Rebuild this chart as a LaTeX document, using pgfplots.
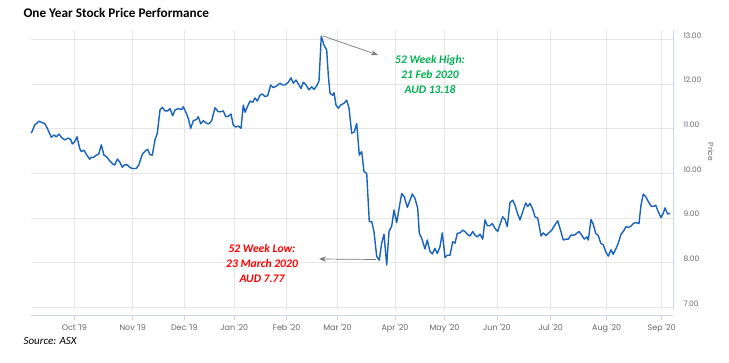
\documentclass[border=0pt]{standalone}
\usepackage{pgfplots}
\pgfplotsset{compat=1.18}
\usepackage{fontspec}
\setmainfont{Carlito}
\newfontfamily\tickfont{Poppins}
\usetikzlibrary{arrows.meta}
\definecolor{lineblue}{RGB}{24,98,188}
\definecolor{axisblue}{RGB}{204,214,235}
\definecolor{gridgrey}{RGB}{230,230,230}
\definecolor{labgrey}{RGB}{102,102,102}
\definecolor{hgreen}{RGB}{0,176,80}
\definecolor{arrgrey}{RGB}{120,120,120}
\begin{document}
\begin{tikzpicture}
\path[use as bounding box] (0pt,0pt) rectangle (729pt,362pt);
\begin{axis}[
  at={(31pt,52pt)}, anchor=south west, scale only axis,
  width=642pt, height=280pt,
  xmin=31, xmax=673, ymin=6.944, ymax=13.21,
  axis x line*=bottom, axis y line*=right,
  axis x line shift=5pt,
  axis line style={axisblue, line width=0.8pt},
  xtick={74.3,132.7,184.3,234.3,286.7,337.5,395,444.5,497,550.7,606.7,661.7},
  xticklabels={Oct '19,Nov '19,Dec '19,Jan '20,Feb '20,Mar '20,Apr '20,May '20,Jun '20,Jul '20,Aug '20,Sep '20},
  ytick={7,8,9,10,11,12,13},
  grid=major,
  major grid style={gridgrey, line width=0.8pt},
  tick align=outside,
  xtick style={axisblue, line width=0.8pt},
  major tick length=5pt,
  ytick style={draw=none},
  /pgf/number format/assume math mode=true,
  yticklabel={\pgfmathprintnumber[fixed,fixed zerofill,precision=2]{\tick}},
  yticklabel style={font=\tickfont\fontsize{7.5}{9}\selectfont, text=labgrey, anchor=west, xshift=2pt, yshift=4pt},
  xticklabel style={font=\tickfont\fontsize{8}{9}\selectfont, text=labgrey, yshift=-1pt},
  clip=false,
]
\addplot[lineblue, line width=1.4pt, line join=round] coordinates {
(31.3,10.90) (34.7,11.08) (39,11.17) (43,11.13) (44.7,11.12) (47.3,11.01) (51.3,10.81) (54,10.86) (56.3,10.82) (59,10.88)
(61.3,10.81) (64.7,10.75) (68,10.79) (70.7,10.76) (72.3,10.66) (74.7,10.71) (77,10.82) (79.7,10.56) (81.3,10.49) (84,10.52)
(86.3,10.43) (89.7,10.32) (91.3,10.36) (93.7,10.36) (96.3,10.41) (98.7,10.43) (101.3,10.64) (104,10.41) (106.7,10.37) (109.7,10.28)
(113,10.21) (114.7,10.19) (117.3,10.32) (119.7,10.26) (122.3,10.14) (124.7,10.19) (127.3,10.19) (129.7,10.14) (132.3,10.11) (136.3,10.11)
(139,10.20) (142.3,10.43) (145.7,10.51) (147.7,10.54) (150,10.42) (152.3,10.41) (155,10.75) (157.3,10.90) (160,11.42) (162.3,11.48)
(165,11.40) (167.7,11.40) (170,11.45) (172.7,11.29) (175,11.42) (178.3,11.45) (181.7,11.43) (183.3,11.49) (185.7,11.38) (188.3,11.23)
(190.7,11.01) (193.3,11.18) (196.7,11.21) (198.3,11.27) (200.7,11.11) (203.3,11.18) (206.7,11.12) (209,11.11) (211.7,11.18) (215,11.47)
(218.3,11.38) (221,11.38) (223.3,11.40) (225.7,11.27) (228.3,11.28) (231,11.33) (233.3,11.08) (235.7,11.04) (238.3,11.06) (241,11.01)
(243.3,11.53) (245,11.37) (247.3,11.49) (250,11.62) (252.7,11.59) (255,11.69) (257.3,11.62) (260,11.75) (262.3,11.78) (265,11.72)
(267.7,11.74) (270.7,11.98) (273.3,11.92) (276.7,11.96) (280,12.02) (282.3,11.98) (285,11.98) (288.3,12.04) (291,12.14) (293.3,12.02)
(296,12.09) (299,11.98) (301,11.90) (303.3,12.04) (306,11.98) (309,11.87) (311.7,11.94) (314,11.88) (316.7,11.96) (319,12.07)
(321.3,13.07) (324,12.87) (326.7,12.76) (328.3,12.20) (330,11.79) (332.7,11.75) (334,11.81) (336,11.53) (338.3,11.46) (340.7,11.53)
(344,11.57) (346.7,11.64) (349,11.46) (351.7,10.90) (354.3,10.93) (356.7,11.12) (359.3,10.41) (361.7,10.49) (364,10.04) (366.7,10.00)
(369.3,8.92) (371.7,8.92) (374,8.70) (376.7,8.14) (379.3,8.06) (381.7,8.44) (384,8.64) (386.7,7.95) (389,8.70) (391.7,8.82)
(394,9.18) (396.7,8.90) (399.3,9.25) (401.7,9.55) (404.3,9.48) (407.3,9.24) (410,9.40) (412.3,9.54) (415,9.44) (417.7,9.22)
(419.3,8.66) (421.7,8.55) (425,8.31) (427.3,8.51) (430,8.25) (432.3,8.20) (435,8.32) (437.3,8.21) (440,8.36) (442.3,8.67)
(445,8.12) (447.3,8.17) (450,8.17) (452.7,8.47) (455,8.44) (457.3,8.66) (460,8.67) (462.7,8.73) (465,8.70) (467.3,8.64)
(470,8.60) (472.7,8.70) (475,8.62) (477.3,8.58) (480,8.64) (482.7,8.53) (485,8.96) (487.3,8.83) (490,8.83) (492.3,8.88)
(495,8.77) (497.7,8.70) (500,8.86) (502.7,9.03) (505,8.97) (507.3,8.81) (510,9.35) (512.7,9.40) (515,9.29) (517.3,9.12)
(520,8.96) (522.7,9.14) (525.7,9.34) (527.7,9.26) (530,9.33) (532.7,9.20) (535,9.03) (537.7,9.00) (540,8.73) (541,8.60)
(543.3,8.67) (546,8.61) (548.3,8.66) (551.7,8.73) (555,8.85) (557.7,8.94) (560,8.77) (563.3,8.51) (566,8.53) (568.3,8.53)
(571,8.62) (574.3,8.62) (576.7,8.66) (579,8.70) (581.7,8.62) (584.3,8.53) (586.7,8.58) (588.3,8.51) (591,8.97) (593.3,8.86)
(595.7,8.66) (598.3,8.61) (600.7,8.44) (603.3,8.40) (605.7,8.25) (608.3,8.15) (611,8.29) (613.3,8.19) (616,8.32) (618.3,8.44)
(621,8.64) (623.3,8.70) (626,8.81) (628.3,8.79) (631,8.82) (633.3,8.88) (635.7,8.90) (639,8.88) (641,9.29) (643.3,9.54)
(646,9.47) (648.3,9.37) (651,9.27) (653.3,9.26) (655.7,9.29) (658.3,9.14) (661,9.01) (663.3,9.11) (665,9.23) (667.7,9.09)
(670,9.11)
};
\end{axis}
% title, source, axis title
\node[anchor=west, font=\bfseries\fontsize{13.2}{15}\selectfont] at (20pt,349.5pt) {One Year Stock Price Performance};
\node[anchor=west, font=\itshape\fontsize{11}{13}\selectfont] at (20pt,21pt) {Source: ASX};
\node[rotate=-90, font=\tickfont\fontsize{7.5}{9}\selectfont, text=labgrey] at (711pt,210pt) {Price};
% annotations
\draw[arrgrey, line width=0.7pt, -{Stealth[length=7pt,width=5pt]}] (323pt,326pt) -- (378pt,307pt);
\draw[arrgrey, line width=0.7pt, -{Stealth[length=7pt,width=5pt]}] (376pt,102.5pt) -- (319pt,103pt);
\node[align=center, text=hgreen, font=\bfseries\itshape\fontsize{11.6}{15.3}\selectfont] at (430pt,287.5pt) {52 Week High:\\21 Feb 2020\\AUD 13.18};
\node[align=center, text=red, font=\bfseries\itshape\fontsize{11.6}{15.3}\selectfont] at (262pt,98.5pt) {52 Week Low:\\23 March 2020\\AUD 7.77};
\end{tikzpicture}
\end{document}
